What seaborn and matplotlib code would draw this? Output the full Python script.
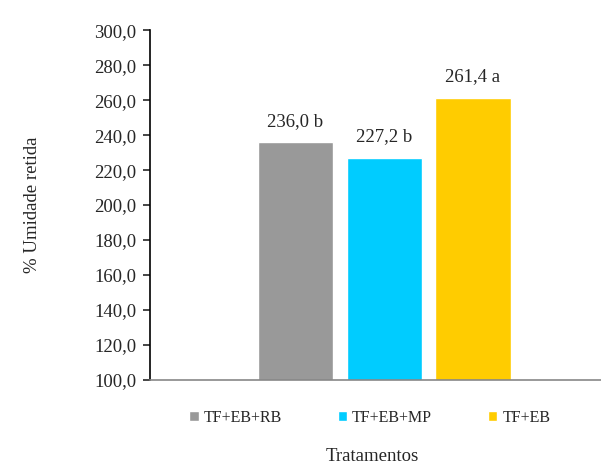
import pandas as pd
import seaborn as sns
import matplotlib.pyplot as plt
from matplotlib.patches import Patch
from matplotlib.ticker import FuncFormatter

# dados
tratamentos = ["TF+EB+RB", "TF+EB+MP", "TF+EB"]
umidade = [236.0, 227.2, 261.4]
letras = ["b", "b", "a"]
cores = ["#999999", "#00CCFF", "#FFCC00"]

tabela = pd.DataFrame({"Tratamento": tratamentos, "Umidade": umidade})

sns.set_style("white")
plt.rcParams["font.family"] = ["Liberation Serif", "DejaVu Serif"]

fig = plt.figure(figsize=(6.01, 4.65), dpi=100)
ax = fig.add_axes([0.2496, 0.183, 0.75, 0.752])

sns.barplot(data=tabela, x="Tratamento", y="Umidade", hue="Tratamento",
            palette=cores, width=0.85, legend=False, ax=ax, saturation=1)

ax.set_ylim(100, 300)
ax.set_yticks(range(100, 301, 20))
ax.yaxis.set_major_formatter(FuncFormatter(lambda v, p: f"{v:.1f}".replace(".", ",")))
ax.set_xlim(-1.64, 3.44)
ax.set_xticks([])
ax.tick_params(axis="y", labelsize=13.5, length=5, width=1.2, direction="out", left=True, pad=5)

for s in ["top", "right"]:
    ax.spines[s].set_visible(False)
ax.spines["left"].set_color("black")
ax.spines["left"].set_linewidth(1.2)
ax.spines["bottom"].set_color("#888888")
ax.spines["bottom"].set_linewidth(1.2)

for i, (v, l) in enumerate(zip(umidade, letras)):
    ax.text(i, v + 7, f"{v:.1f}".replace(".", ",") + " " + l,
            ha="center", va="bottom", fontsize=13.5)

ax.set_ylabel("% Umidade retida", fontsize=13.5, labelpad=38)
ax.set_xlabel("")

handles = [Patch(facecolor=c, label=t) for c, t in zip(cores, tratamentos)]
fig.legend(handles=handles, loc="center", bbox_to_anchor=(0.615, 0.101), ncol=3,
           frameon=False, fontsize=11.5, handlelength=0.6, handleheight=0.6,
           handletextpad=0.3, columnspacing=3.5)
fig.text(0.62, 0.018, "Tratamentos", ha="center", va="center", fontsize=13.5)

fig.savefig("out.png", dpi=100)
